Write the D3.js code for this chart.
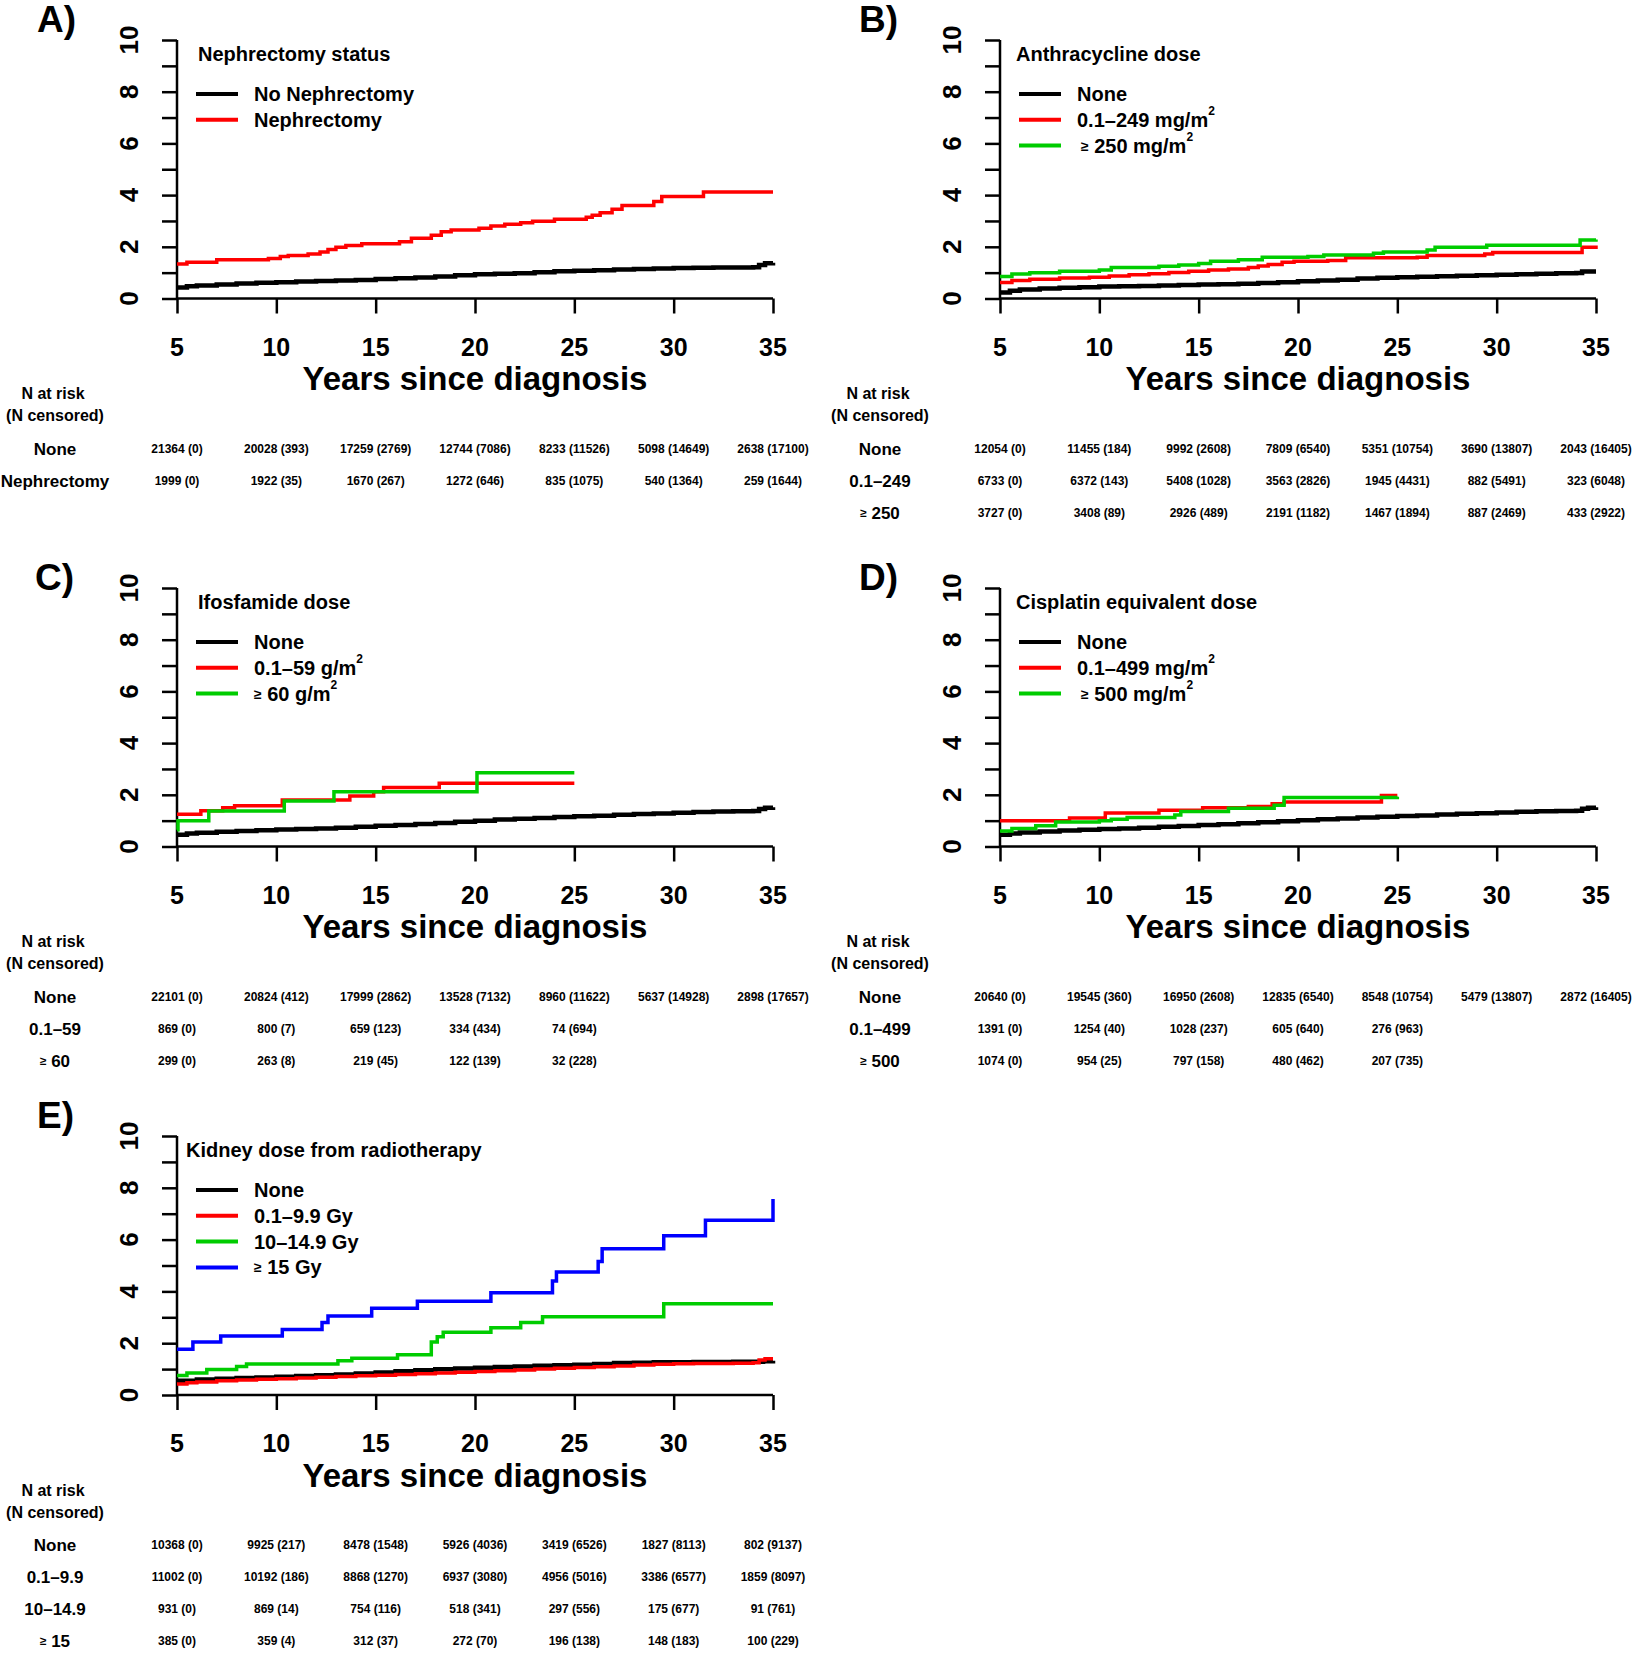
<!DOCTYPE html>
<html><head><meta charset="utf-8">
<script src="https://cdn.jsdelivr.net/npm/d3@7"></script>
<style>
body{margin:0;background:#fff;}
svg{display:block;}
text{font-family:"Liberation Sans",Arial,Helvetica,sans-serif;fill:#000;}
</style>
</head><body><svg id="chart" width="1637" height="1653"></svg>
<script>
// ---------- DATA ----------
const xTicks = [5, 10, 15, 20, 25, 30, 35];
const yTicksMinor = [0,1,2,3,4,5,6,7,8,9,10];
const yTickLabels = [0, 2, 4, 6, 8, 10];
const xTitle = "Years since diagnosis";

// Panel A – Nephrectomy status
const nephNone = [[5,0.43],[5.5,0.47],[6,0.5],[7,0.54],[8,0.58],[9,0.61],[10,0.63],[11,0.66],[12,0.68],[13,0.7],[14,0.72],[15,0.75],[16,0.78],[17,0.81],[18,0.85],[19,0.9],[20,0.94],[21,0.96],[22,0.98],[23,1.02],[24,1.05],[25,1.07],[26,1.09],[27,1.12],[28,1.14],[29,1.16],[30,1.18],[31,1.19],[32,1.2],[33,1.2],[34,1.21],[34.3,1.3],[34.6,1.36],[35,1.38]];
const nephYes = [[5,1.33],[5.5,1.4],[7,1.5],[9.6,1.55],[10.2,1.62],[10.6,1.66],[11.6,1.72],[12.2,1.8],[12.6,1.9],[13,1.98],[13.5,2.05],[14.3,2.12],[16.2,2.2],[16.8,2.33],[17.8,2.45],[18.3,2.58],[18.8,2.65],[20.2,2.72],[20.8,2.8],[21.5,2.87],[22.3,2.93],[22.9,2.99],[24,3.07],[25.6,3.14],[25.9,3.22],[26.3,3.32],[26.9,3.45],[27.4,3.6],[29,3.75],[29.4,3.95],[31.5,4.12],[35,4.12]];
const riskA_None = ["21364 (0)","20028 (393)","17259 (2769)","12744 (7086)","8233 (11526)","5098 (14649)","2638 (17100)"];
const riskA_Neph = ["1999 (0)","1922 (35)","1670 (267)","1272 (646)","835 (1075)","540 (1364)","259 (1644)"];

// Panel B – Anthracycline dose
const anthNone = [[5,0.23],[5.5,0.3],[6,0.35],[7,0.39],[8,0.42],[9,0.44],[10,0.46],[11,0.47],[12,0.48],[13,0.5],[14,0.52],[15,0.54],[16,0.55],[17,0.57],[18,0.6],[19,0.63],[20,0.67],[21,0.7],[22,0.73],[23,0.77],[24,0.8],[25,0.82],[26,0.84],[27,0.86],[28,0.88],[29,0.9],[30,0.92],[31,0.94],[32,0.96],[33,0.98],[34,0.99],[34.3,1.04],[35,1.04]];
const anthLow = [[5,0.62],[5.6,0.7],[6.5,0.74],[8,0.79],[9.5,0.82],[10.5,0.87],[11.5,0.92],[12.5,0.96],[13.5,1.01],[14.5,1.05],[15.5,1.1],[16.5,1.14],[17.5,1.2],[18,1.26],[18.5,1.32],[19.2,1.4],[19.8,1.44],[21.5,1.47],[22.4,1.58],[26,1.6],[26.5,1.66],[29.4,1.72],[29.8,1.78],[34,1.78],[34.3,1.98],[35,2.05]];
const anthHigh = [[5,0.85],[5.6,0.95],[6.5,1.0],[8,1.05],[10,1.1],[10.6,1.2],[13,1.25],[14,1.3],[15,1.35],[15.6,1.44],[17,1.5],[18.2,1.6],[20.5,1.62],[21.3,1.68],[23.8,1.75],[24.3,1.8],[26.5,1.88],[26.9,1.98],[29.5,2.06],[34,2.06],[34.2,2.26],[35,2.28]];
const riskB_None = ["12054 (0)","11455 (184)","9992 (2608)","7809 (6540)","5351 (10754)","3690 (13807)","2043 (16405)"];
const riskB_Low = ["6733 (0)","6372 (143)","5408 (1028)","3563 (2826)","1945 (4431)","882 (5491)","323 (6048)"];
const riskB_High = ["3727 (0)","3408 (89)","2926 (489)","2191 (1182)","1467 (1894)","887 (2469)","433 (2922)"];

// Panel C – Ifosfamide dose
const ifoNone = [[5,0.45],[5.5,0.5],[6,0.53],[7,0.57],[8,0.6],[9,0.63],[10,0.66],[11,0.68],[12,0.7],[13,0.73],[14,0.76],[15,0.8],[16,0.83],[17,0.87],[18,0.91],[19,0.96],[20,1.0],[21,1.04],[22,1.07],[23,1.1],[24,1.14],[25,1.17],[26,1.19],[27,1.23],[28,1.26],[29,1.28],[30,1.31],[31,1.33],[32,1.35],[33,1.36],[34,1.37],[34.3,1.45],[34.6,1.5],[35,1.52]];
const ifoLow = [[5,1.25],[6.2,1.38],[7.3,1.5],[7.9,1.58],[10.3,1.8],[13.7,1.95],[14.9,2.12],[15.4,2.28],[18.2,2.45],[25,2.45]];
const ifoHigh = [[5,0.65],[5.05,1.0],[6.6,1.37],[10.4,1.76],[12.9,2.12],[20.1,2.85],[25,2.85]];
const riskC_None = ["22101 (0)","20824 (412)","17999 (2862)","13528 (7132)","8960 (11622)","5637 (14928)","2898 (17657)"];
const riskC_Low = ["869 (0)","800 (7)","659 (123)","334 (434)","74 (694)"];
const riskC_High = ["299 (0)","263 (8)","219 (45)","122 (139)","32 (228)"];

// Panel D – Cisplatin equivalent dose
const cisNone = [[5,0.45],[5.5,0.5],[6,0.54],[7,0.58],[8,0.62],[9,0.65],[10,0.68],[11,0.7],[12,0.73],[13,0.76],[14,0.79],[15,0.83],[16,0.86],[17,0.9],[18,0.94],[19,0.98],[20,1.02],[21,1.05],[22,1.08],[23,1.12],[24,1.15],[25,1.18],[26,1.2],[27,1.24],[28,1.27],[29,1.29],[30,1.32],[31,1.34],[32,1.36],[33,1.37],[34,1.38],[34.3,1.46],[34.6,1.5],[35,1.52]];
const cisLow = [[5,1.0],[8.5,1.1],[10.3,1.3],[13,1.4],[15.2,1.5],[17.5,1.55],[18.7,1.65],[19.3,1.72],[24.2,1.97],[25,1.97]];
const cisHigh = [[5,0.6],[5.6,0.7],[6.8,0.8],[7.8,0.95],[10,1.0],[10.6,1.05],[11.4,1.12],[13.8,1.22],[14.1,1.35],[16.5,1.48],[18.8,1.6],[19.3,1.9],[25,1.92]];
const riskD_None = ["20640 (0)","19545 (360)","16950 (2608)","12835 (6540)","8548 (10754)","5479 (13807)","2872 (16405)"];
const riskD_Low = ["1391 (0)","1254 (40)","1028 (237)","605 (640)","276 (963)"];
const riskD_High = ["1074 (0)","954 (25)","797 (158)","480 (462)","207 (735)"];

// Panel E – Kidney dose from radiotherapy
const rtNone = [[5,0.55],[6,0.6],[7,0.63],[8,0.66],[9,0.68],[10,0.7],[11,0.73],[12,0.76],[13,0.79],[14,0.83],[15,0.87],[16,0.92],[17,0.96],[18,0.99],[19,1.02],[20,1.05],[21,1.08],[22,1.1],[23,1.13],[24,1.15],[25,1.17],[26,1.2],[27,1.24],[28,1.25],[29,1.26],[30,1.26],[31,1.27],[32,1.27],[33,1.28],[34,1.28],[34.5,1.3],[35,1.32]];
const rtLow = [[5,0.42],[5.5,0.47],[6,0.5],[7,0.55],[8,0.58],[9,0.61],[10,0.63],[11,0.66],[12,0.69],[13,0.71],[14,0.74],[15,0.76],[16,0.79],[17,0.82],[18,0.85],[19,0.88],[20,0.91],[21,0.94],[22,0.97],[23,1.0],[24,1.03],[25,1.06],[26,1.09],[27,1.12],[28,1.16],[29,1.19],[30,1.21],[31,1.22],[32,1.22],[33,1.23],[34,1.25],[34.3,1.35],[34.6,1.4],[35,1.4]];
const rtMid = [[5,0.75],[5.5,0.85],[6.5,0.98],[8,1.1],[8.5,1.2],[13.1,1.32],[13.8,1.42],[16.1,1.55],[17.8,2.05],[18.1,2.25],[18.4,2.42],[20.8,2.6],[22.3,2.8],[23.4,3.02],[29.5,3.52],[35,3.52]];
const rtHigh = [[5,1.77],[5.8,2.05],[7.2,2.28],[10.3,2.53],[12.3,2.8],[12.6,3.05],[14.8,3.35],[17.1,3.62],[20.8,3.95],[23.9,4.4],[24.1,4.75],[26.2,5.15],[26.4,5.65],[29.5,6.15],[31.6,6.75],[35,7.57]];
const riskE_None = ["10368 (0)","9925 (217)","8478 (1548)","5926 (4036)","3419 (6526)","1827 (8113)","802 (9137)"];
const riskE_Low = ["11002 (0)","10192 (186)","8868 (1270)","6937 (3080)","4956 (5016)","3386 (6577)","1859 (8097)"];
const riskE_Mid = ["931 (0)","869 (14)","754 (116)","518 (341)","297 (556)","175 (677)","91 (761)"];
const riskE_High = ["385 (0)","359 (4)","312 (37)","272 (70)","196 (138)","148 (183)","100 (229)"];

const C_BLACK = "#000000", C_RED = "#ff0000", C_GREEN = "#00cc00", C_BLUE = "#0000ff";

const panels = [
  {letter:"A)", title:"Nephrectomy status",
   series:[{label:"No Nephrectomy",color:C_BLACK,data:nephNone},{label:"Nephrectomy",color:C_RED,data:nephYes}],
   riskRows:[{label:"None",vals:riskA_None},{label:"Nephrectomy",vals:riskA_Neph}]},
  {letter:"B)", title:"Anthracycline dose",
   series:[{label:"None",color:C_BLACK,data:anthNone},{label:"0.1–249 mg/m^2",color:C_RED,data:anthLow},{label:" ≥ 250 mg/m^2",color:C_GREEN,data:anthHigh}],
   riskRows:[{label:"None",vals:riskB_None},{label:"0.1–249",vals:riskB_Low},{label:"≥ 250",vals:riskB_High}]},
  {letter:"C)", title:"Ifosfamide dose",
   series:[{label:"None",color:C_BLACK,data:ifoNone},{label:"0.1–59 g/m^2",color:C_RED,data:ifoLow},{label:"≥ 60 g/m^2",color:C_GREEN,data:ifoHigh}],
   riskRows:[{label:"None",vals:riskC_None},{label:"0.1–59",vals:riskC_Low},{label:"≥ 60",vals:riskC_High}]},
  {letter:"D)", title:"Cisplatin equivalent dose",
   series:[{label:"None",color:C_BLACK,data:cisNone},{label:"0.1–499 mg/m^2",color:C_RED,data:cisLow},{label:" ≥ 500 mg/m^2",color:C_GREEN,data:cisHigh}],
   riskRows:[{label:"None",vals:riskD_None},{label:"0.1–499",vals:riskD_Low},{label:"≥ 500",vals:riskD_High}]},
  {letter:"E)", title:"Kidney dose from radiotherapy",
   series:[{label:"None",color:C_BLACK,data:rtNone},{label:"0.1–9.9 Gy",color:C_RED,data:rtLow},{label:"10–14.9 Gy",color:C_GREEN,data:rtMid},{label:"≥ 15 Gy",color:C_BLUE,data:rtHigh}],
   riskRows:[{label:"None",vals:riskE_None},{label:"0.1–9.9",vals:riskE_Low},{label:"10–14.9",vals:riskE_Mid},{label:"≥ 15",vals:riskE_High}]}
];

// ---------- LAYOUT ----------
const layout = [
  {x0:177, x1:773, top:40, bottom:298.5, letterX:37, letterY:19, titleDx:21, riskX:55},
  {x0:1000, x1:1596, top:40, bottom:298.5, letterX:859, letterY:19, titleDx:16, riskX:880},
  {x0:177, x1:773, top:588, bottom:846.5, letterX:35, letterY:577, titleDx:21, riskX:55},
  {x0:1000, x1:1596, top:588, bottom:846.5, letterX:859, letterY:577, titleDx:16, riskX:880},
  {x0:177, x1:773, top:1136, bottom:1395, letterX:37, letterY:1115, titleDx:9, riskX:55}
];

const svg = d3.select("#chart");
svg.append("rect").attr("width",1637).attr("height",1653).attr("fill","#fff");

function addLabel(sel, label, fs){
  // handles leading ≥ (smaller) and ^ superscript
  let main = label, sup = null;
  if (label.includes("^")) { [main, sup] = label.split("^"); }
  const m = main.match(/^(\s*)≥(.*)$/);
  if (m) {
    sel.append("tspan").text(m[1] + "≥").attr("font-size", fs*0.7);
    sel.append("tspan").text(m[2]);
  } else {
    sel.append("tspan").text(main);
  }
  if (sup) {
    sel.append("tspan").text(sup).attr("font-size", fs*0.6).attr("dy", -fs*0.45);
  }
}

panels.forEach((p, i) => {
  const L = layout[i];
  const g = svg.append("g");
  const x = d3.scaleLinear().domain([5, 35]).range([L.x0, L.x1]);
  const y = d3.scaleLinear().domain([0, 10]).range([L.bottom, L.top]);

  // panel letter
  g.append("text").attr("x", L.letterX).attr("y", L.letterY)
    .attr("font-size", 37).attr("font-weight", "bold")
    .attr("dominant-baseline", "central").text(p.letter);

  // y axis
  const yAxis = d3.axisLeft(y).tickValues(yTicksMinor).tickSize(15).tickFormat("");
  const ya = g.append("g").attr("transform", `translate(${L.x0},0)`).call(yAxis);
  ya.select(".domain").attr("stroke-width", 2.5).attr("d", `M0,${L.bottom}V${L.top}`);
  ya.selectAll(".tick line").attr("stroke-width", 2.5);
  g.selectAll(".ylab").data(yTickLabels).join("text")
    .attr("transform", d => `translate(${L.x0 - 48},${y(d)}) rotate(-90)`)
    .attr("text-anchor", "middle").attr("dominant-baseline", "central")
    .attr("font-size", 26).attr("font-weight", "bold").text(d => d);

  // x axis
  const xAxis = d3.axisBottom(x).tickValues(xTicks).tickSize(15).tickFormat("");
  const xa = g.append("g").attr("transform", `translate(0,${L.bottom})`).call(xAxis);
  xa.select(".domain").attr("stroke-width", 2.5).attr("d", `M${L.x0},0H${L.x1}`);
  xa.selectAll(".tick line").attr("stroke-width", 2.5);
  g.selectAll(".xlab").data(xTicks).join("text")
    .attr("x", d => x(d)).attr("y", L.bottom + 48)
    .attr("text-anchor", "middle").attr("dominant-baseline", "central")
    .attr("font-size", 25).attr("font-weight", "bold").text(d => d);
  g.append("text").attr("x", (L.x0 + L.x1) / 2).attr("y", L.bottom + 80)
    .attr("text-anchor", "middle").attr("dominant-baseline", "central")
    .attr("font-size", 33).attr("font-weight", "bold").text(xTitle);

  // curves
  const line = d3.line().x(d => x(d[0])).y(d => y(d[1])).curve(d3.curveStepAfter);
  p.series.forEach(s => {
    g.append("path").attr("d", line(s.data)).attr("fill", "none")
      .attr("stroke", s.color).attr("stroke-width", s.color === C_BLACK ? 4.5 : 3.5)
      .attr("stroke-linejoin", "miter");
  });

  // legend
  g.append("text").attr("x", L.x0 + L.titleDx).attr("y", L.top + 14)
    .attr("dominant-baseline", "central").attr("font-size", 20).attr("font-weight", "bold")
    .text(p.title);
  p.series.forEach((s, k) => {
    const ly = L.top + 54 + 25.8 * k;
    g.append("line").attr("x1", L.x0 + 19).attr("x2", L.x0 + 61)
      .attr("y1", ly).attr("y2", ly).attr("stroke", s.color).attr("stroke-width", 4);
    const t = g.append("text").attr("x", L.x0 + 77).attr("y", ly)
      .attr("dominant-baseline", "central").attr("font-size", 20).attr("font-weight", "bold")
      .attr("xml:space", "preserve").style("white-space", "pre");
    addLabel(t, s.label, 20);
  });

  // number at risk
  g.append("text").attr("x", L.riskX - 2).attr("y", L.bottom + 95)
    .attr("text-anchor", "middle").attr("dominant-baseline", "central")
    .attr("font-size", 16).attr("font-weight", "bold").text("N at risk");
  g.append("text").attr("x", L.riskX).attr("y", L.bottom + 117)
    .attr("text-anchor", "middle").attr("dominant-baseline", "central")
    .attr("font-size", 16).attr("font-weight", "bold").text("(N censored)");
  p.riskRows.forEach((r, k) => {
    const ry = L.bottom + 150 + 32 * k;
    const t = g.append("text").attr("x", L.riskX).attr("y", ry)
      .attr("text-anchor", "middle").attr("dominant-baseline", "central")
      .attr("font-size", 17).attr("font-weight", "bold");
    addLabel(t, r.label, 17);
    g.selectAll(null).data(r.vals).join("text")
      .attr("x", (d, j) => x(xTicks[j])).attr("y", ry)
      .attr("text-anchor", "middle").attr("dominant-baseline", "central")
      .attr("font-size", 12).attr("font-weight", "bold").text(d => d);
  });
});
</script></body></html>
